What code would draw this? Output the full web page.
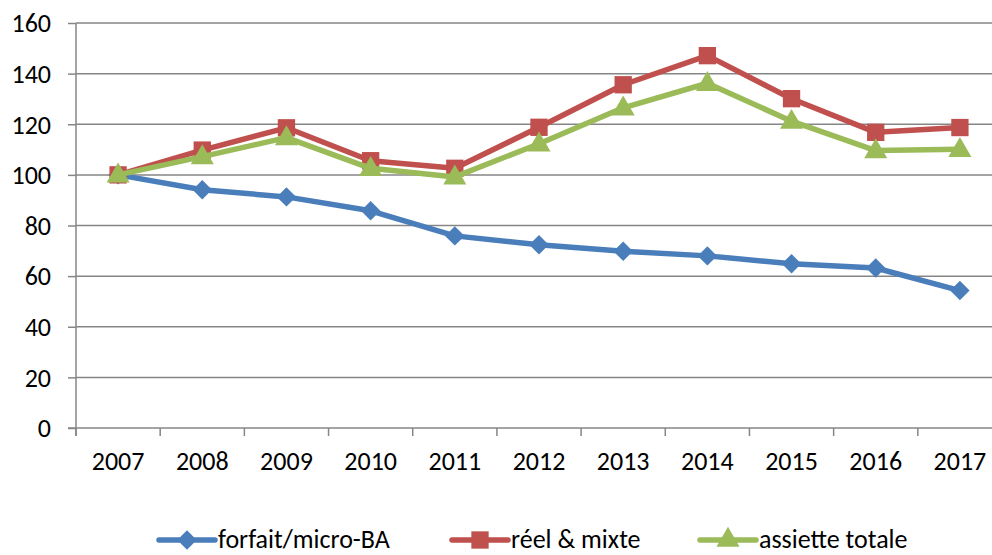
<!DOCTYPE html>
<html>
<head>
<meta charset="utf-8">
<script src="https://cdn.jsdelivr.net/npm/d3@7"></script>
<style>
  body { margin: 0; background: #fff; }
  text { font-family: Carlito, "Open Sans", sans-serif; fill: #000; }
</style>
</head>
<body>
<div id="chart"></div>
<script>
const years = ['2007', '2008', '2009', '2010', '2011', '2012', '2013', '2014', '2015', '2016', '2017'];
const forfait = [100, 94.1, 91.3, 85.8, 75.9, 72.4, 69.8, 68, 64.9, 63.2, 54.3];
const reel = [100, 109.8, 118.6, 105.6, 102.6, 118.8, 135.6, 147.1, 130.1, 116.8, 118.7];
const assiette = [100, 107.2, 114.7, 102.6, 99.2, 112.3, 126.5, 136.2, 121.2, 109.6, 110.1];
const yTicks = [0, 20, 40, 60, 80, 100, 120, 140, 160];

const series = [
  {name: 'forfait/micro-BA', values: forfait, color: '#4A7EBB', marker: 'diamond'},
  {name: 'réel & mixte', values: reel, color: '#C0504D', marker: 'square'},
  {name: 'assiette totale', values: assiette, color: '#9BBB59', marker: 'triangle'}
];

const width = 992;
const height = 555;
const margin = {top: 23, right: -10, bottom: 127, left: 76};
const fontSize = '26px';

const svg = d3
  .select('#chart')
  .append('svg')
  .attr('width', width)
  .attr('height', height);

const x = d3
  .scaleBand()
  .domain(years)
  .range([margin.left, width - margin.right]);

const y = d3
  .scaleLinear()
  .domain([0, 160])
  .range([height - margin.bottom, margin.top]);

const gridColor = '#868686';

// horizontal grid lines + y ticks
const yAxis = svg
  .append('g')
  .attr('transform', `translate(${margin.left},0)`)
  .call(
    d3
      .axisLeft(y)
      .tickValues(yTicks)
      .tickSize(8)
      .tickPadding(17)
  );
yAxis.select('.domain').remove();
yAxis.selectAll('.tick line').attr('stroke', gridColor).attr('stroke-width', 1.5);
yAxis.selectAll('.tick text').style('font-size', fontSize).attr('dy', '0.34em');

svg
  .append('g')
  .selectAll('line')
  .data(yTicks.filter(d => d > 0))
  .join('line')
  .attr('x1', margin.left)
  .attr('x2', width)
  .attr('y1', d => y(d))
  .attr('y2', d => y(d))
  .attr('stroke', gridColor)
  .attr('stroke-width', 1.5);

// x axis
const xAxis = svg
  .append('g')
  .attr('transform', `translate(0,${y(0)})`)
  .call(
    d3
      .axisBottom(x)
      .tickSize(0)
      .tickPadding(24)
  );
xAxis.select('.domain').attr('stroke', gridColor).attr('stroke-width', 1.5).attr('d', `M${margin.left - 8},0H${width}`);
xAxis.selectAll('.tick text').style('font-size', fontSize);

svg
  .append('g')
  .selectAll('line')
  .data(years)
  .join('line')
  .attr('x1', d => x(d))
  .attr('x2', d => x(d))
  .attr('y1', y(0))
  .attr('y2', y(0) + 8)
  .attr('stroke', gridColor)
  .attr('stroke-width', 1.5);

// y axis line
svg
  .append('line')
  .attr('x1', margin.left)
  .attr('x2', margin.left)
  .attr('y1', y(160))
  .attr('y2', y(0) + 8)
  .attr('stroke', gridColor)
  .attr('stroke-width', 1.5);

const symbolFor = m => {
  if (m === 'diamond') return d3.symbol().type(d3.symbolDiamond2).size(240);
  if (m === 'square') return d3.symbol().type(d3.symbolSquare).size(300);
  return d3.symbol().type(d3.symbolTriangle).size(230);
};

const line = d3
  .line()
  .x((d, i) => x(years[i]) + x.bandwidth() / 2)
  .y(d => y(d));

series.forEach(s => {
  const g = svg.append('g');
  g.append('path')
    .datum(s.values)
    .attr('fill', 'none')
    .attr('stroke', s.color)
    .attr('stroke-width', 5.5)
    .attr('stroke-linejoin', 'round')
    .attr('d', line);
  g.selectAll('path.marker')
    .data(s.values)
    .join('path')
    .attr('class', 'marker')
    .attr('transform', (d, i) => `translate(${x(years[i]) + x.bandwidth() / 2},${y(d) + (s.marker === 'triangle' ? 1 : 0)})`)
    .attr('d', symbolFor(s.marker)())
    .attr('fill', s.color);
});

// legend
const legendY = 540;
const legendX = [159, 452, 700];
const legend = svg
  .append('g')
  .selectAll('g')
  .data(series)
  .join('g')
  .attr('transform', (d, i) => `translate(${legendX[i]},${legendY})`);

legend
  .append('line')
  .attr('x1', 0)
  .attr('x2', 56)
  .attr('stroke', d => d.color)
  .attr('stroke-width', 5.5)
  .attr('stroke-linecap', 'round');
legend
  .append('path')
  .attr('transform', 'translate(28,0)')
  .attr('d', d => symbolFor(d.marker)())
  .attr('fill', d => d.color);
legend
  .append('text')
  .attr('x', 59)
  .attr('dy', '0.3em')
  .style('font-size', fontSize)
  .text(d => d.name);
</script>
</body>
</html>
